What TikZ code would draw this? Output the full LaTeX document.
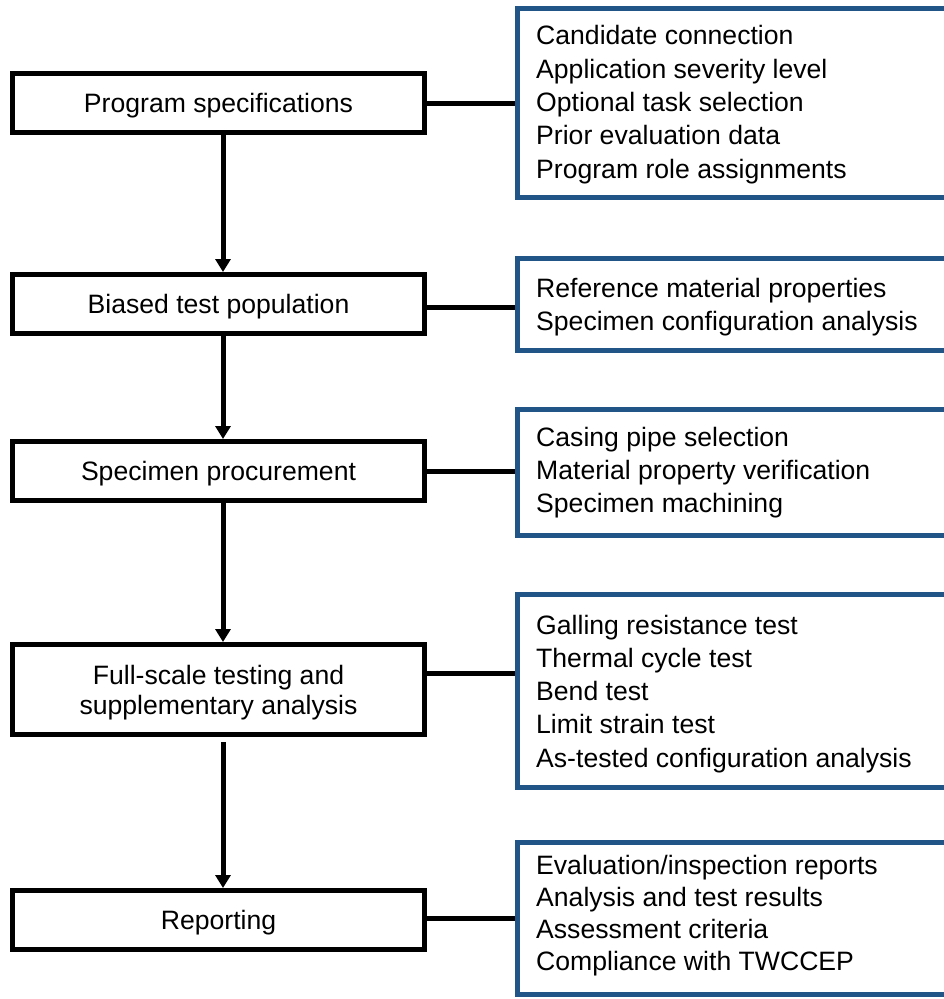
\documentclass[tikz,border=0pt]{standalone}
\usepackage{fontspec}
\setmainfont{Liberation Sans}
\usetikzlibrary{arrows.meta}
\definecolor{frameblue}{RGB}{33,84,135}
\tikzset{
  stage/.style={draw=black, line width=5pt, fill=white, minimum width=412pt,
    minimum height=59pt, inner sep=0pt, align=center, text depth=0pt,
    font=\fontsize{26.6}{30}\selectfont},
  detail/.style={draw=frameblue, line width=5pt, fill=white, minimum width=442.5pt,
    inner sep=0pt},
  itemtext/.style={anchor=west, inner sep=0pt, align=left, text depth=0pt,
    font=\fontsize{26.6}{33.3}\selectfont},
  flow/.style={line width=5pt, -{Triangle[width=15pt,length=13pt]}},
  link/.style={line width=5pt}
}
\begin{document}
\begin{tikzpicture}[x=1pt,y=-1pt]
  \useasboundingbox (0,0) rectangle (944,999);
  \clip (0,0) rectangle (944,999);

  % process stages
  \node[stage] (spec) at (218.5,103) {Program specifications};
  \node[stage] (bias) at (218.5,304) {Biased test population};
  \node[stage] (proc) at (218.5,471) {Specimen procurement};
  \node[stage, minimum height=90pt] (test) at (218.5,689.5) {Full-scale testing and\\supplementary analysis};
  \node[stage] (rep) at (218.5,920) {Reporting};

  % detail boxes (open to the right)
  \node[detail, minimum height=189pt] (d1) at (738.75,103) {};
  \node[detail, minimum height=92pt]  (d2) at (738.75,304.5) {};
  \node[detail, minimum height=126pt] (d3) at (738.75,472.5) {};
  \node[detail, minimum height=193pt] (d4) at (738.75,691) {};
  \node[detail, minimum height=152pt] (d5) at (738.75,918.5) {};

  \node[itemtext] (t1) at ([xshift=21pt,yshift=1.2pt]d1.west) {Candidate connection\\Application severity level\\Optional task selection\\Prior evaluation data\\Program role assignments};
  \node[itemtext] (t2) at ([xshift=21pt]d2.west) {Reference material properties\\Specimen configuration analysis};
  \node[itemtext] (t3) at ([xshift=21pt,yshift=2.5pt]d3.west) {Casing pipe selection\\Material property verification\\Specimen machining};
  \node[itemtext] (t4) at ([xshift=21pt]d4.west) {Galling resistance test\\Thermal cycle test\\Bend test\\Limit strain test\\As-tested configuration analysis};
  \node[itemtext, font=\fontsize{26.6}{32}\selectfont] (t5) at ([xshift=21pt,yshift=5.7pt]d5.west) {Evaluation/inspection reports\\Analysis and test results\\Assessment criteria\\Compliance with TWCCEP};

  % main flow
  \draw[flow] ([xshift=4.5pt]spec.south) -- ([xshift=4.5pt]bias.north);
  \draw[flow] ([xshift=4.5pt]bias.south) -- ([xshift=4.5pt]proc.north);
  \draw[flow] ([xshift=4.5pt]proc.south) -- ([xshift=4.5pt]test.north);
  \draw[flow, shorten <=5pt] ([xshift=4.5pt]test.south) -- ([xshift=4.5pt]rep.north);

  % links to details
  \draw[link] (spec.east) -- (spec.east -| d1.west);
  \draw[link] ([yshift=-3pt]bias.east) -- ([yshift=-3pt]bias.east -| d2.west);
  \draw[link] (proc.east) -- (proc.east -| d3.west);
  \draw[link] ([yshift=16.5pt]test.east) -- ([yshift=16.5pt]test.east -| d4.west);
  \draw[link] ([yshift=2pt]rep.east) -- ([yshift=2pt]rep.east -| d5.west);
\end{tikzpicture}
\end{document}
